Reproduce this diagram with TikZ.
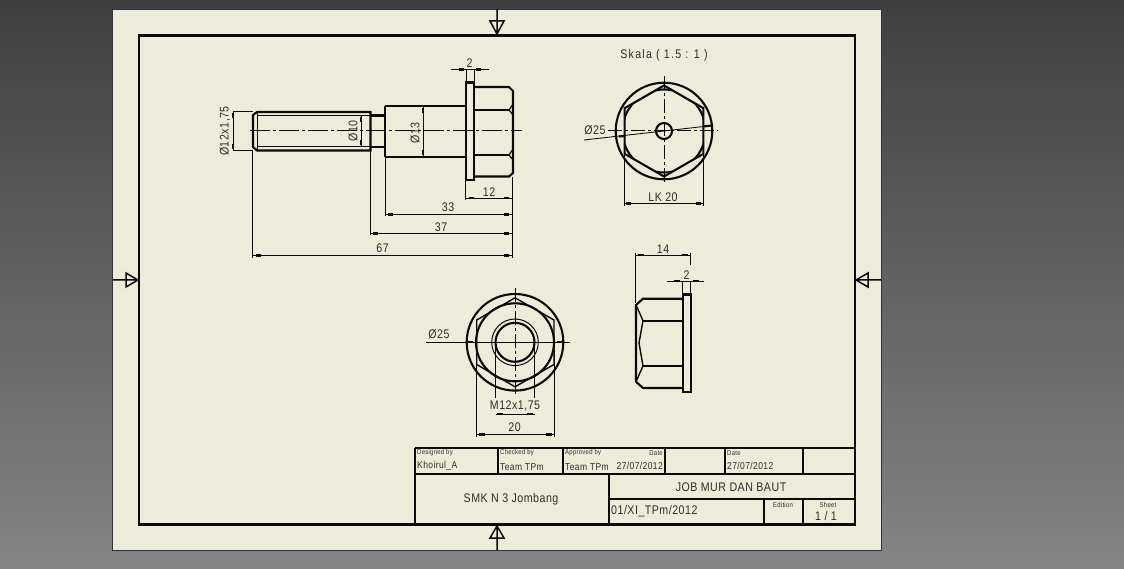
\documentclass[tikz,border=0pt]{standalone}
\usepackage{fontspec}
\setmainfont[FakeStretch=0.85,LetterSpace=4]{Liberation Sans}
\definecolor{sheet}{HTML}{ECECD8}
\definecolor{ink}{HTML}{0A0A0A}
\definecolor{txt}{HTML}{2E2E2A}
\definecolor{edge}{HTML}{30304A}
\tikzset{
 thick line/.style={line width=2.1pt,ink},
 thin line/.style={line width=1pt,ink},
 dim line/.style={line width=0.85pt,ink},
 center line/.style={line width=0.8pt,ink,dash pattern=on 20pt off 3pt on 3pt off 3pt},
 short center/.style={line width=0.8pt,ink,dash pattern=on 14pt off 3pt on 3pt off 3pt},
 lab/.style={inner sep=0pt,text=txt,font=\fontsize{12.5}{13}\selectfont},
 small lab/.style={inner sep=0pt,text=txt,font=\fontsize{7}{8}\selectfont},
 tb lab/.style={inner sep=0pt,text=txt,font=\fontsize{10}{11}\selectfont},
 tick/.style={line width=2.2pt,ink},
 mark line/.style={line width=1.5pt,ink}
}
\newcommand{\hdim}[3]{% x1,x2,y
 \draw[dim line] (#1,#3)--(#2,#3);
 \draw[tick] (#1+3,#3)--(#1+8,#3);
 \draw[tick] (#2-8,#3)--(#2-3,#3);}
\begin{document}
\begin{tikzpicture}[x=1pt,y=-1pt]
\useasboundingbox (0,0) rectangle (1124,569);
\shade[top color=black!75!white,bottom color=black!48!white] (0,0) rectangle (1124,569);
\fill[sheet] (112.5,9) rectangle (881,550.5);
\draw[line width=0.7pt,edge] (112.5,9) rectangle (881,550.5);
\draw[line width=2.4pt,ink] (139,35.5) rectangle (855,524.5);
% centring marks
\draw[mark line] (497,9)--(497,35) (490,21)--(504,21)--(497,34)--cycle;
\draw[mark line] (497,525)--(497,550) (490,538)--(504,538)--(497,526)--cycle;
\draw[mark line] (113,280)--(139,280) (126,273)--(126,287)--(138,280)--cycle;
\draw[mark line] (855,280)--(881,280) (868,273)--(868,287)--(856,280)--cycle;
% title block
\draw[line width=2pt,ink]
 (415,447.5)--(855,447.5) (415,447.5)--(415,524.5)
 (415,474)--(855,474) (609,474)--(609,524.5) (609,499)--(855,499)
 (498,447.5)--(498,474) (563,447.5)--(563,474) (665,447.5)--(665,474)
 (725,447.5)--(725,474) (803,447.5)--(803,474)
 (764,499)--(764,524.5) (803,499)--(803,524.5);
\node[small lab,anchor=west] (a1) at (417,453) {Designed by};
\node[small lab,anchor=west] (a2) at (500,453) {Checked by};
\node[small lab,anchor=west] (a3) at (565,453) {Approved by};
\node[small lab,anchor=east] (a4) at (663,453) {Date};
\node[small lab,anchor=west] (a5) at (727,453) {Date};
\node[tb lab,anchor=west] (b1) at (417,466) {Khoirul\_A};
\node[tb lab,anchor=west] (b2) at (500,467) {Team TPm};
\node[tb lab,anchor=west] (b3) at (565,467) {Team TPm};
\node[tb lab,anchor=east] (b4) at (663,465.5) {27/07/2012};
\node[tb lab,anchor=west] (b5) at (727,465.5) {27/07/2012};
\node[lab] (c1) at (511,499) {SMK N 3 Jombang};
\node[lab] (c2) at (731,487) {JOB MUR DAN BAUT};
\node[lab,anchor=west] (c3) at (611,511.5) {01/XI\_TPm/2012};
\node[small lab] (c4) at (783,505) {Edition};
\node[small lab] (c5) at (828,505) {Sheet};
\node[lab] (c6) at (826,516.5) {1 / 1};
% bolt side view
\draw[center line] (250,130.5)--(522,130.5);
\draw[thick line] (253,115)--(257,112)--(370.5,112)--(370.5,150.5)--(257,150.5)--(253,147)--cycle;
\draw[thin line] (257,112)--(257,150) (257,115.5)--(370,115.5) (257,147)--(370,147);
\draw[thick line] (370,115.5)--(385,115.5) (370,147)--(385,147);
\draw[thick line] (385,106)--(466,106) (385,157)--(466,157) (385,106)--(385,157);
\draw[thick line] (466,82.5) rectangle (474,180);
\draw[thick line] (474,87)--(509,87)--(513,91)--(513,173)--(509,176.5)--(474,176.5);
\draw[thick line] (474,110)--(509,110) (474,155)--(509,155);
\draw[line width=1.2pt,ink] (509,110)--(513,104) (509,110)--(513,115) (509,155)--(513,149) (509,155)--(513,160);
% dims of bolt
\draw[dim line] (233,111)--(253,111) (233,150)--(253,150) (233,111)--(233,150);
\draw[tick] (233,113)--(233,118) (233,144)--(233,149);
\draw[dim line] (361,116)--(361,146);
\draw[tick] (361,117)--(361,122) (361,140)--(361,145);
\draw[dim line] (423,106)--(423,157);
\draw[tick] (423,108)--(423,113) (423,150)--(423,155);
\node[lab,rotate=90] (d1) at (225,131) {Ø12x1,75};
\node[lab,rotate=90] (d2) at (353,131) {Ø10};
\node[lab,rotate=90] (d3) at (415,133) {Ø13};
\draw[dim line] (451,69.5)--(489,69.5) (466,69.5)--(466,81) (474,69.5)--(474,81);
\draw[tick] (459,69.5)--(464,69.5) (476,69.5)--(481,69.5);
\node[lab] (d4) at (469.5,63) {2};
\draw[dim line] (465.5,181)--(465.5,200) (512.5,177)--(512.5,258) (385,158)--(385,216) (370,151)--(370,235) (252.5,150)--(252.5,258);
\hdim{466}{512}{198.3}
\hdim{385}{512}{214.5}
\hdim{370}{512}{233.5}
\hdim{253}{512}{255.5}
\node[lab] (d5) at (489,192) {12};
\node[lab] (d6) at (448,207.5) {33};
\node[lab] (d7) at (441,227) {37};
\node[lab] (d8) at (382.5,248.5) {67};
% top-right view
\node[lab] (s1) at (664,55.5) {\addfontfeature{LetterSpace=10}Skala ( 1.5 : 1 )};
\draw[short center] (664,76)--(664,184);
\draw[short center] (608,130.5)--(718,130.5);
\draw[thick line] (664,131) circle (48.3);
\begin{scope}
\clip (664,85.5)--(703.4,108.2)--(703.4,153.8)--(664,176.5)--(624.6,153.8)--(624.6,108.2)--cycle;
\draw[thick line] (664,131) circle (41.5);
\end{scope}
\draw[thick line] (664,131) circle (8);
\draw[thick line] (664,85.5)--(703.4,108.2)--(703.4,153.8)--(664,176.5)--(624.6,153.8)--(624.6,108.2)--cycle;
\draw[dim line] (584,140)--(712.5,125.5);
\draw[tick] (619,136.5)--(624,136) (703,126.5)--(711,125.6);
\node[lab] (s2) at (595,130) {Ø25};
\draw[dim line] (624.5,135)--(624.5,206) (703,135)--(703,206) (624.5,203.5)--(703,203.5);
\draw[tick] (626,203.5)--(631,203.5) (696,203.5)--(701,203.5);
\node[lab] (s3) at (663,197) {LK 20};
% bottom-left view
\draw[short center] (515,288)--(515,394);
\draw[dim line] (426,342)--(570,342);
\draw[thick line] (515,342.3) circle (48.3);
\draw[thick line] (515,342.3) circle (39);
\draw[line width=1.4pt,ink] (515,297.8)--(554,320)--(554,364.5)--(515,386.8)--(476.7,364.5)--(476.7,320)--cycle;
\draw[thick line] (515,342.3) circle (19.5);
\draw[thin line] (515,342.3) circle (23.3);
\draw[tick] (467,342)--(473,342) (557,342)--(563,342);
\node[lab] (t1) at (439,334) {Ø25};
\draw[dim line] (495.5,345)--(495.5,398) (534.5,345)--(534.5,398) (495.5,414)--(534.5,414);
\draw[tick] (497,414)--(503,414) (527,414)--(533,414);
\node[lab] (t2) at (515,405.5) {M12x1,75};
\draw[dim line] (476.7,350)--(476.7,437) (554,350)--(554,437) (476.7,434.5)--(554,434.5);
\draw[tick] (479,434.5)--(485,434.5) (546,434.5)--(552,434.5);
\node[lab] (t3) at (514.5,427) {20};
% right view
\draw[thick line] (683,294.5) rectangle (691,392);
\draw[thick line] (683,298.7)--(643,298.7)--(636,305)--(636,381.7)--(643,388)--(683,388);
\draw[thick line] (643,320.7)--(683,320.7) (643,366)--(683,366);
\draw[line width=1.4pt,ink] (636,305)--(643,320.7)--(639,343)--(643,366)--(636,381.7);
\draw[dim line] (635.5,253)--(635.5,303) (690.5,253)--(690.5,265) (635.5,255)--(690.5,255);
\draw[tick] (638,255)--(644,255) (682,255)--(688,255);
\node[lab] (u1) at (663,249) {14};
\draw[dim line] (667,281)--(704,281) (682.5,281)--(682.5,294) (690.5,281)--(690.5,294);
\draw[tick] (674,281)--(680,281) (693,281)--(699,281);
\node[lab] (u2) at (686.5,275) {2};
\end{tikzpicture}
\end{document}
